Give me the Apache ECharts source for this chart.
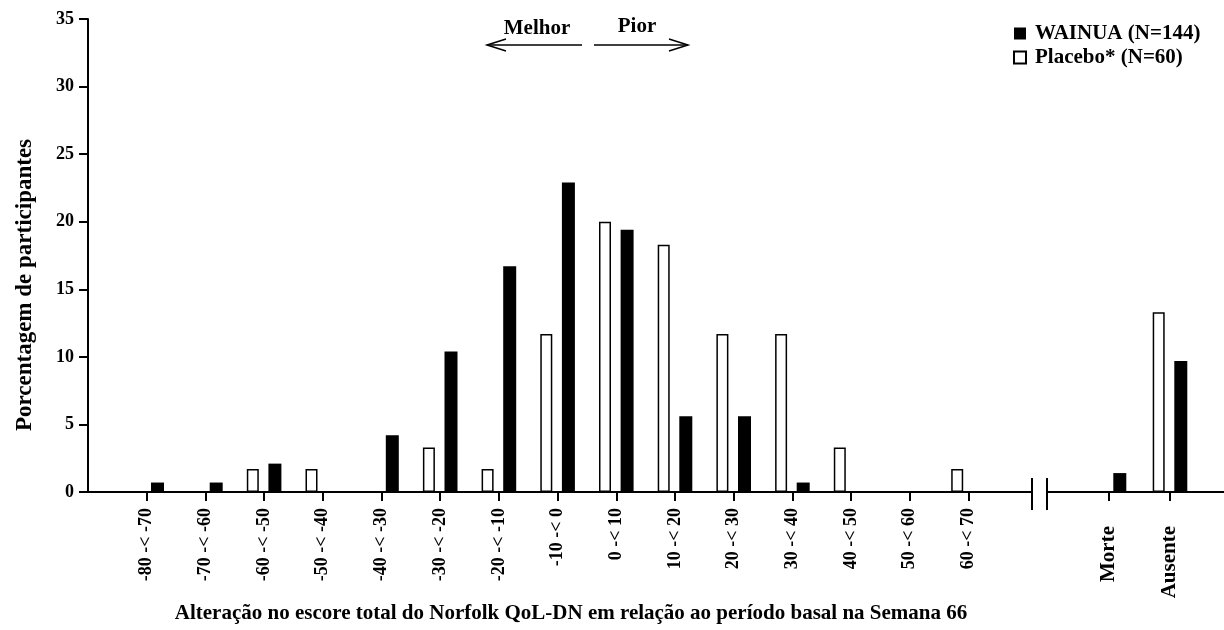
<!DOCTYPE html>
<html>
<head>
<meta charset="utf-8">
<script src="https://cdn.jsdelivr.net/npm/echarts@6/dist/echarts.min.js"></script>
<style>
  html, body { margin: 0; padding: 0; background: #ffffff; }
  #chart { width: 1224px; height: 630px; }
</style>
</head>
<body>
<div id="chart"></div>
<script>
// Change bins of the Norfolk QoL-DN total score (week 66 vs baseline)
const binLabels = ['-80 -< -70', '-70 -< -60', '-60 -< -50', '-50 -< -40', '-40 -< -30',
  '-30 -< -20', '-20 -< -10', '-10 -< 0', '0 -< 10', '10 -< 20', '20 -< 30',
  '30 -< 40', '40 -< 50', '50 -< 60', '60 -< 70'];
// Outcome categories shown after the axis break
const outcomeLabels = ['Morte', 'Ausente'];

// Percentage of participants per bin
const wainuaBins  = [0.7, 0.7, 2.1, 0, 4.2, 10.4, 16.7, 22.9, 19.4, 5.6, 5.6, 0.7, 0, 0, 0];
const placeboBins = [0, 0, 1.7, 1.7, 0, 3.3, 1.7, 11.7, 20.0, 18.3, 11.7, 11.7, 3.3, 0, 1.7];
const wainuaOutcomes  = [1.4, 9.7];
const placeboOutcomes = [0, 13.3];

const yMin = 0, yMax = 35, yStep = 5;

const seriesNames = { wainua: 'WAINUA (N=144)', placebo: 'Placebo* (N=60)' };
const titles = {
  y: 'Porcentagem de participantes',
  x: 'Alteração no escore total do Norfolk QoL-DN em relação ao período basal na Semana 66',
  better: 'Melhor',
  worse: 'Pior'
};

const FONT = '"Liberation Serif", "Times New Roman", serif';
const INK = '#000000';

// Empty slots at both ends keep the first/last categories off the axis ends
const leftCats = [''].concat(binLabels, ['']);
const rightCats = [''].concat(outcomeLabels, ['']);
const pad = arr => [null].concat(arr, [null]);

const placeboStyle = { color: '#ffffff', borderColor: INK, borderWidth: 1.5 };
const wainuaStyle = { color: INK };

function xAxisFor(cats, gridIndex, labelSize, labelMargin) {
  return {
    type: 'category',
    gridIndex: gridIndex,
    data: cats,
    boundaryGap: false,
    axisLine: { show: true, lineStyle: { color: INK, width: 2 } },
    axisTick: {
      show: true, length: 9, inside: false,
      interval: (idx, val) => val !== '',
      lineStyle: { color: INK, width: 2 }
    },
    axisLabel: {
      interval: 0, rotate: 90, margin: labelMargin,
      color: INK, fontFamily: FONT, fontWeight: 'bold', fontSize: labelSize
    },
    splitLine: { show: false }
  };
}

function yAxisFor(gridIndex, visible) {
  return {
    type: 'value',
    gridIndex: gridIndex,
    min: yMin, max: yMax, interval: yStep,
    show: visible,
    axisLine: { show: true, lineStyle: { color: INK, width: 2 } },
    axisTick: { show: true, length: 9, lineStyle: { color: INK, width: 2 } },
    axisLabel: { margin: 14, color: INK, fontFamily: FONT, fontWeight: 'bold', fontSize: 18 },
    splitLine: { show: false }
  };
}

const barCommon = { type: 'bar', barGap: '80%', animation: false };

const option = {
  backgroundColor: '#ffffff',
  animation: false,
  grid: [
    { left: 88, top: 19, width: 939.2, height: 473, outerBoundsMode: 'none' },
    { left: 1048, top: 19, width: 183, height: 473, outerBoundsMode: 'none' }
  ],
  xAxis: [xAxisFor(leftCats, 0, 18, 16), xAxisFor(rightCats, 1, 21, 34)],
  yAxis: [yAxisFor(0, true), yAxisFor(1, false)],
  legend: {
    data: [seriesNames.wainua, seriesNames.placebo],
    orient: 'vertical',
    left: 1013, top: 23,
    padding: 0,
    itemWidth: 12, itemHeight: 12, itemGap: 3,
    icon: 'rect',
    selectedMode: false,
    textStyle: { color: INK, fontFamily: FONT, fontWeight: 'bold', fontSize: 21, padding: [0, 0, 0, 4] }
  },
  series: [
    Object.assign({}, barCommon, { name: seriesNames.placebo, xAxisIndex: 0, yAxisIndex: 0,
      barWidth: 12, itemStyle: placeboStyle, data: pad(placeboBins) }),
    Object.assign({}, barCommon, { name: seriesNames.wainua, xAxisIndex: 0, yAxisIndex: 0,
      barWidth: 13, itemStyle: wainuaStyle, data: pad(wainuaBins) }),
    Object.assign({}, barCommon, { name: seriesNames.placebo, xAxisIndex: 1, yAxisIndex: 1,
      barWidth: 12, itemStyle: placeboStyle, data: pad(placeboOutcomes) }),
    Object.assign({}, barCommon, { name: seriesNames.wainua, xAxisIndex: 1, yAxisIndex: 1,
      barWidth: 13, itemStyle: wainuaStyle, data: pad(wainuaOutcomes) })
  ],
  graphic: [
    // axis titles
    { type: 'text', x: 25, y: 285, rotation: Math.PI / 2,
      style: { text: titles.y, font: 'bold 23px ' + FONT, fill: INK, textAlign: 'center', textVerticalAlign: 'middle' } },
    { type: 'text', x: 571, y: 614,
      style: { text: titles.x, font: 'bold 21px ' + FONT, fill: INK, textAlign: 'center', textVerticalAlign: 'middle' } },
    // direction hints
    { type: 'text', x: 537, y: 29,
      style: { text: titles.better, font: 'bold 21px ' + FONT, fill: INK, textAlign: 'center', textVerticalAlign: 'middle' } },
    { type: 'text', x: 637, y: 27,
      style: { text: titles.worse, font: 'bold 21px ' + FONT, fill: INK, textAlign: 'center', textVerticalAlign: 'middle' } },
    { type: 'line', shape: { x1: 487, y1: 45, x2: 582, y2: 45 }, style: { stroke: INK, lineWidth: 1.5 } },
    { type: 'polyline', shape: { points: [[506, 39], [487, 45], [506, 51]] }, style: { stroke: INK, lineWidth: 1.5, fill: null } },
    { type: 'line', shape: { x1: 594, y1: 45, x2: 688, y2: 45 }, style: { stroke: INK, lineWidth: 1.5 } },
    { type: 'polyline', shape: { points: [[669, 39], [688, 45], [669, 51]] }, style: { stroke: INK, lineWidth: 1.5, fill: null } },
    // axis continuation up to the break, and the break marks
    { type: 'line', shape: { x1: 1026, y1: 492, x2: 1032, y2: 492 }, style: { stroke: INK, lineWidth: 2 } },
    { type: 'line', shape: { x1: 1032, y1: 478, x2: 1032, y2: 510 }, style: { stroke: INK, lineWidth: 2 } },
    { type: 'line', shape: { x1: 1047, y1: 478, x2: 1047, y2: 510 }, style: { stroke: INK, lineWidth: 2 } },
    { type: 'line', shape: { x1: 1046, y1: 492, x2: 1049, y2: 492 }, style: { stroke: INK, lineWidth: 2 } }
  ]
};

const chart = echarts.init(document.getElementById('chart'), null, { renderer: 'canvas' });
chart.setOption(option);
</script>
</body>
</html>
